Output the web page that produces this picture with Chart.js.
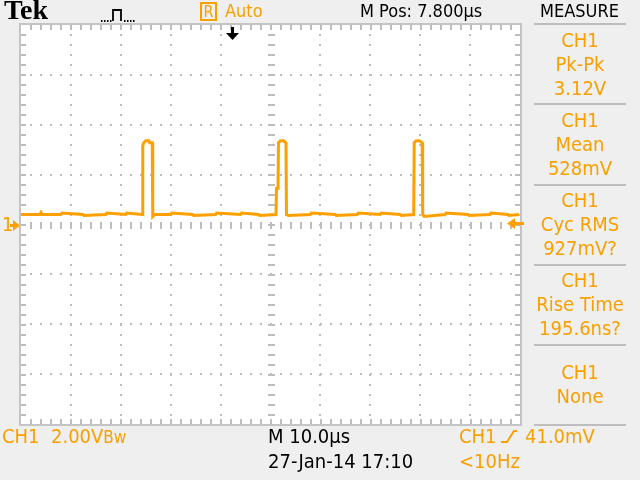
<!DOCTYPE html>
<html>
<head>
    <title>Tek scope capture</title>
    <script src="https://cdn.jsdelivr.net/npm/chart.js"></script>
    <style>
        body { margin: 0; background: #efefef; }
        #scope { position: relative; width: 640px; height: 480px; overflow: hidden; background: #efefef;
                 font-family: "DejaVu Sans Condensed", "DejaVu Sans", sans-serif; font-stretch: condensed; }
        #scope canvas { position: absolute; left: 0; top: 0; }
        .t { position: absolute; white-space: pre; font-size: 20px; line-height: 24px; }
        .s { font-size: 18px; line-height: 22px; }
        .o { color: #f7a000; }
        .k { color: #000; }
        .m { position: absolute; left: 530px; width: 100px; text-align: center; font-size: 20px; line-height: 24px; color: #f7a000; }
        .sep { position: absolute; left: 534px; width: 92px; height: 2px; background: #bdbdbd; }
    </style>
</head>
<body>
<div id="scope">
    <canvas id="scopeChart" width="640" height="480"></canvas>

    <!-- top line -->
    <div class="t k" style="left:4px; top:-6px; font-family:'Liberation Serif',serif; font-weight:bold; font-size:28px; line-height:32px; font-stretch:normal;">Tek</div>
    <svg style="position:absolute; left:98px; top:4px;" width="42" height="20">
        <path d="M3 17h1.5 M6 17h1.5 M9 17h1.5 M12 17h1.5 M15 17V6h8v11 M26 17h1.5 M29 17h1.5 M32 17h1.5 M35 17h1.5" stroke="#000" stroke-width="1.8" fill="none"/>
    </svg>
    <div class="t o s" style="left:200px; top:2px; width:13px; height:15px; border:2px solid #f7a000; line-height:16px; font-size:16px; text-align:center;">R</div>
    <div class="t o s" style="left:225px; top:0px;">Auto</div>
    <div class="t k s" style="left:360px; top:0px;">M Pos: 7.800µs</div>
    <div class="t k s" style="left:540px; top:0px;">MEASURE</div>

    <!-- measurement panel -->
    <div class="sep" style="top:23px;"></div>
    <div class="m" style="top:28px;">CH1</div>
    <div class="m" style="top:52px;">Pk-Pk</div>
    <div class="m" style="top:76px;">3.12V</div>
    <div class="sep" style="top:103px;"></div>
    <div class="m" style="top:108px;">CH1</div>
    <div class="m" style="top:132px;">Mean</div>
    <div class="m" style="top:156px;">528mV</div>
    <div class="sep" style="top:184px;"></div>
    <div class="m" style="top:188px;">CH1</div>
    <div class="m" style="top:212px;">Cyc RMS</div>
    <div class="m" style="top:236px;">927mV?</div>
    <div class="sep" style="top:264px;"></div>
    <div class="m" style="top:268px;">CH1</div>
    <div class="m" style="top:292px;">Rise Time</div>
    <div class="m" style="top:316px;">195.6ns?</div>
    <div class="sep" style="top:344px;"></div>
    <div class="m" style="top:360px;">CH1</div>
    <div class="m" style="top:384px;">None</div>
    <div class="sep" style="top:424px;"></div>

    <!-- bottom lines -->
    <div class="t o" style="left:2px; top:424px;">CH1  2.00V<span style="font-size:17px;">Bw</span></div>
    <div class="t k" style="left:268px; top:424px;">M 10.0µs</div>
    <div class="t k" style="left:268px; top:449px;">27-Jan-14 17:10</div>
    <div class="t o" style="left:459px; top:424px;">CH1</div>
    <svg style="position:absolute; left:499px; top:428px;" width="20" height="16">
        <path d="M2 14h6 L15 3h3" stroke="#f7a000" stroke-width="2" fill="none"/>
    </svg>
    <div class="t o" style="left:525px; top:424px;">41.0mV</div>
    <div class="t o" style="left:459px; top:449px;">&lt;10Hz</div>

    <div class="t o" style="left:2px; top:212px;">1</div>
</div>

<script>
    // time axis in microseconds (10 us/div, 10 div), volts at 2 V/div
    const times = [0, 3.8, 4.0, 4.2, 8.0, 8.2, 12.4, 12.6, 17.0, 17.2, 21.0, 21.2, 24.3, 24.4, 24.6, 25.0, 25.6, 25.8, 26.3, 26.4, 26.8,
                   30.0, 30.2, 34.4, 34.6, 39.0, 39.2, 44.0, 44.2, 47.6, 47.8, 51.1, 51.2, 51.5, 51.6, 52.0, 52.6, 53.1, 53.2, 53.6,
                   58.0, 58.2, 63.0, 63.2, 67.4, 67.6, 72.0, 72.2, 76.0, 76.2, 78.7, 78.8, 79.2, 79.8, 80.4, 80.5, 80.8,
                   85.0, 85.2, 89.6, 89.8, 94.0, 94.2, 97.6, 97.8, 99.8];
    const volts = [0.40, 0.40, 0.48, 0.40, 0.40, 0.46, 0.40, 0.36, 0.40, 0.46, 0.40, 0.46, 0.40, 3.16, 3.28, 3.36, 3.36, 3.28, 3.28, 0.32, 0.40,
                   0.40, 0.46, 0.40, 0.36, 0.40, 0.46, 0.40, 0.46, 0.40, 0.36, 0.40, 1.44, 1.44, 3.28, 3.36, 3.36, 3.28, 0.40, 0.36,
                   0.40, 0.46, 0.40, 0.36, 0.40, 0.46, 0.40, 0.46, 0.40, 0.36, 0.40, 3.28, 3.36, 3.36, 3.28, 0.40, 0.32,
                   0.40, 0.46, 0.40, 0.36, 0.40, 0.46, 0.40, 0.36, 0.40];
    const xDivs = [0, 10, 20, 30, 40, 50, 60, 70, 80, 90, 100];
    const yDivs = [-8, -6, -4, -2, 0, 2, 4, 6, 8];
    const triggerTime = 42.2;
    const triggerLevel = 0.041;

    const TRACE = '#ffa000';
    const GRID = '#bdbdbd';

    // graticule drawn behind the trace
    const graticule = {
        id: 'graticule',
        beforeDatasetsDraw(chart) {
            const ctx = chart.ctx;
            const a = chart.chartArea;
            const xs = chart.scales.x, ys = chart.scales.y;
            ctx.save();
            ctx.fillStyle = '#fff';
            ctx.fillRect(a.left, a.top, a.right - a.left, a.bottom - a.top);
            ctx.fillStyle = GRID;
            // dotted division lines
            xDivs.slice(1, -1).forEach(v => {
                const px = Math.round(xs.getPixelForValue(v));
                for (let py = a.top + 10; py < a.bottom; py += 10) ctx.fillRect(px - 1, py - 1, 2, 2);
            });
            yDivs.slice(1, -1).forEach(v => {
                const py = Math.round(ys.getPixelForValue(v));
                for (let px = a.left + 10; px < a.right; px += 10) ctx.fillRect(px - 1, py - 1, 2, 2);
            });
            // centre lines with minor ticks
            const cx = Math.round(xs.getPixelForValue(50)), cy = Math.round(ys.getPixelForValue(0));
            for (let py = a.top + 10; py < a.bottom; py += 10) ctx.fillRect(cx - 3, py - 1, 7, 2);
            for (let px = a.left + 10; px < a.right; px += 10) ctx.fillRect(px - 1, cy - 3, 2, 7);
            // border ticks
            for (let px = a.left + 10; px < a.right; px += 10) {
                ctx.fillRect(px - 1, a.top, 2, 5);
                ctx.fillRect(px - 1, a.bottom - 5, 2, 5);
            }
            for (let py = a.top + 10; py < a.bottom; py += 10) {
                ctx.fillRect(a.left, py - 1, 5, 2);
                ctx.fillRect(a.right - 5, py - 1, 5, 2);
            }
            ctx.strokeStyle = '#c4c4c4';
            ctx.lineWidth = 2;
            ctx.strokeRect(a.left - 1, a.top - 1, a.right - a.left + 2, a.bottom - a.top + 2);
            ctx.restore();
        },
        afterDraw(chart) {
            const ctx = chart.ctx;
            const a = chart.chartArea;
            const xs = chart.scales.x, ys = chart.scales.y;
            ctx.save();
            // trigger position marker
            const tx = Math.round(xs.getPixelForValue(triggerTime));
            ctx.fillStyle = '#000';
            ctx.fillRect(tx - 1, a.top + 2, 3, 8);
            ctx.beginPath();
            ctx.moveTo(tx - 6, a.top + 8);
            ctx.lineTo(tx + 7, a.top + 8);
            ctx.lineTo(tx + 0.5, a.top + 15);
            ctx.closePath();
            ctx.fill();
            // ground marker for CH1
            const gy = Math.round(ys.getPixelForValue(0));
            ctx.fillStyle = TRACE;
            ctx.fillRect(10, gy - 1, 8, 3);
            ctx.beginPath();
            ctx.moveTo(13, gy - 5); ctx.lineTo(20, gy + 0.5); ctx.lineTo(13, gy + 6);
            ctx.closePath();
            ctx.fill();
            // trigger level marker
            const ly = Math.round(ys.getPixelForValue(triggerLevel));
            ctx.fillRect(a.right - 8, ly - 1, 12, 3);
            ctx.beginPath();
            ctx.moveTo(a.right - 13, ly + 0.5); ctx.lineTo(a.right - 5, ly - 5); ctx.lineTo(a.right - 5, ly + 6);
            ctx.closePath();
            ctx.fill();
            ctx.restore();
        }
    };

    function createChart() {
        const canvas = document.getElementById('scopeChart');
        new Chart(canvas, {
            type: 'line',
            data: {
                datasets: [{
                    label: 'CH1',
                    data: times.map((t, i) => ({ x: t, y: volts[i] })),
                    borderColor: TRACE,
                    borderWidth: 3,
                    pointRadius: 0,
                    tension: 0,
                    fill: false
                }]
            },
            options: {
                responsive: false,
                animation: false,
                layout: { padding: { left: 21, top: 25, right: 120, bottom: 56 } },
                plugins: { legend: { display: false }, tooltip: { enabled: false } },
                scales: {
                    x: { type: 'linear', min: 0, max: 100, display: false },
                    y: { min: -8, max: 8, display: false }
                }
            },
            plugins: [graticule]
        });
    }

    window.onload = () => {
        createChart();
    };
</script>
</body>
</html>
